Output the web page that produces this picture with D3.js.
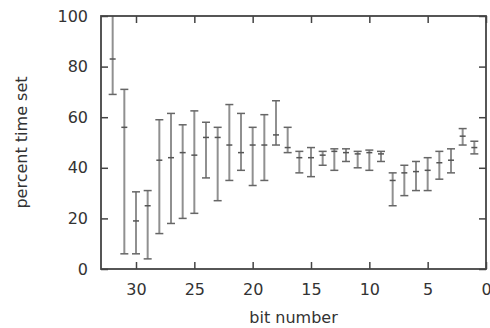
<!DOCTYPE html>
<html>
<head>
<meta charset="utf-8">
<script src="https://cdn.jsdelivr.net/npm/d3@7"></script>
<style>
  body { margin: 0; background: #fff; }
  svg { display: block; }
</style>
</head>
<body>
<svg id="chart"></svg>
<script>
// bit index, mean percentage, and error bar ends
const bits  = [32, 31, 30, 29, 28, 27, 26, 25, 24, 23, 22, 21, 20, 19, 18, 17,
               16, 15, 14, 13, 12, 11, 10, 9, 8, 7, 6, 5, 4, 3, 2, 1];
const means = [83, 56, 19, 25, 43, 44, 46, 45, 52, 52, 49, 46, 49, 49, 53, 48,
               44, 44, 45, 46.5, 46, 45.5, 46, 45.5, 35, 38, 38.5, 39, 42, 43, 52.5, 48];
const lows  = [69, 6, 6, 4, 14, 18, 20, 22, 36, 27, 35, 39, 33, 35, 49, 46,
               38, 36.5, 41, 39, 42.5, 40, 39, 42.5, 25, 29, 31, 31, 35.5, 38, 49, 45.5];
const highs = [102, 71, 30.5, 31, 59, 61.5, 57, 62.5, 58, 56, 65, 61.5, 56, 61, 66.5, 56,
               46.5, 48, 46.5, 47.5, 47.5, 46.5, 47, 46.5, 38, 41, 42.5, 44, 46.5, 47.5, 55.5, 50.5];
const xTicks = [30, 25, 20, 15, 10, 5, 0];
const yTicks = [0, 20, 40, 60, 80, 100];

const W = 490, H = 328;
const margin = { left: 101, right: 4, top: 16, bottom: 59 };
const iw = W - margin.left - margin.right;
const ih = H - margin.top - margin.bottom;

const svg = d3.select("#chart").attr("width", W).attr("height", H)
    .attr("font-family", "'DejaVu Sans', sans-serif")
    .attr("font-size", 16);

const x = d3.scaleLinear().domain([33, 0]).range([0, iw]);
const y = d3.scaleLinear().domain([0, 100]).range([ih, 0]);

const g = svg.append("g").attr("transform", `translate(${margin.left},${margin.top})`);

svg.append("defs").append("clipPath").attr("id", "plot")
    .append("rect").attr("width", iw).attr("height", ih);

// error bars
const data = bits.map((b, i) => ({ b, m: means[i], lo: lows[i], hi: highs[i] }));
const bars = g.append("g").attr("clip-path", "url(#plot)")
    .selectAll("g").data(data).join("g")
    .attr("transform", d => `translate(${x(d.b)},0)`);

bars.append("line")
    .attr("y1", d => y(d.lo)).attr("y2", d => y(d.hi))
    .attr("stroke", "#909090").attr("stroke-width", 2);
bars.append("line")
    .attr("x1", -4).attr("x2", 4)
    .attr("y1", d => y(d.lo)).attr("y2", d => y(d.lo))
    .attr("stroke", "#666").attr("stroke-width", 1.5);
bars.append("line")
    .attr("x1", -4).attr("x2", 4)
    .attr("y1", d => y(d.hi)).attr("y2", d => y(d.hi))
    .attr("stroke", "#666").attr("stroke-width", 1.5);
bars.append("line")
    .attr("x1", -3).attr("x2", 3)
    .attr("y1", d => y(d.m)).attr("y2", d => y(d.m))
    .attr("stroke", "#555").attr("stroke-width", 1.5);

// axes, ticks drawn inward on all four sides
const tl = 7;
g.append("g").attr("transform", `translate(0,${ih})`)
    .call(d3.axisBottom(x).tickValues(xTicks).tickSize(-tl).tickPadding(tl + 8))
    .call(a => a.select(".domain").remove());
g.append("g")
    .call(d3.axisTop(x).tickValues(xTicks).tickSize(-tl).tickFormat(""))
    .call(a => a.select(".domain").remove());
g.append("g")
    .call(d3.axisLeft(y).tickValues(yTicks).tickSize(-tl).tickPadding(tl + 6))
    .call(a => a.select(".domain").remove());
g.append("g").attr("transform", `translate(${iw},0)`)
    .call(d3.axisRight(y).tickValues(yTicks).tickSize(-tl).tickFormat(""))
    .call(a => a.select(".domain").remove());

g.selectAll(".tick line").attr("stroke", "#444").attr("stroke-width", 1.5);
g.selectAll(".tick text").attr("fill", "#333").attr("font-size", 16)
    .attr("font-family", "'DejaVu Sans', sans-serif");

g.append("rect").attr("width", iw).attr("height", ih)
    .attr("fill", "none").attr("stroke", "#444").attr("stroke-width", 1.8);

// labels
svg.append("text")
    .attr("x", margin.left + iw / 2).attr("y", 323)
    .attr("text-anchor", "middle").attr("fill", "#333")
    .text("bit number");
svg.append("text")
    .attr("transform", `translate(27,${margin.top + ih / 2}) rotate(-90)`)
    .attr("text-anchor", "middle").attr("fill", "#333")
    .text("percent time set");
</script>
</body>
</html>
